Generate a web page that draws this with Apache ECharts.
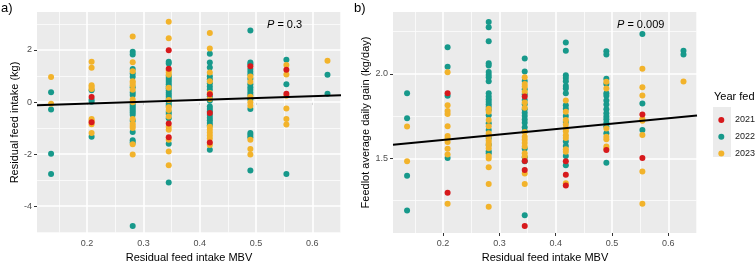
<!DOCTYPE html>
<html><head><meta charset="utf-8">
<script src="https://cdn.jsdelivr.net/npm/echarts@6/dist/echarts.min.js"></script>
<style>html,body{margin:0;padding:0;background:#fff}#c{width:756px;height:261px}</style>
</head><body><div id="c"></div>
<script>
// x positions of the MBV groups
const xLevels = [0.136, 0.208, 0.281, 0.345, 0.418, 0.490, 0.554, 0.627];
const years = ['2021', '2022', '2023'];
const colors = {'2021': '#d7191c', '2022': '#17998b', '2023': '#f2b32b'};

// Panel a: residual feed intake (kg), one list per MBV group
const rfi2021 = [[], [0.19, -0.78], [], [1.99, 1.28, -0.82, -1.35], [0.3, -0.42, -1.55], [1.38], [1.24, 0.32], []];
const rfi2022 = [
  [0.38, -0.29, -1.99, -2.76],
  [0.45, 0.09, 0.01, -1.33],
  [1.93, 1.83, 1.27, 1.1, 0.97, 0.57, 0.37, 0.27, -0.09, -0.17, -0.25, -0.32, -0.4, -0.49, -0.72, -1.15, -1.47, -1.55, -4.76],
  [1.55, 1.48, 1.0, 0.92, 0.85, 0.77, 0.68, 0.6, 0.52, 0.44, 0.36, 0.28, 0.2, 0.12, 0.03, -0.06, -0.14, -0.38, -0.46, -0.62, -1.6, -3.09],
  [1.86, 1.52, 1.33, 0.99, 0.88, 0.72, 0.6, 0.48, 0.22, 0.05, -0.17, -0.27, -0.36, -0.5, -0.6, -0.7, -0.8, -0.9, -1.83],
  [2.75, 1.52, 1.45, 1.27, 1.16, 1.06, 0.9, 0.68, 0.57, 0.47, 0.37, 0.27, 0.11, -0.27, -1.19, -1.27, -1.35, -2.63],
  [1.63, 0.68, -2.76],
  [1.05, 0.32]
];
const rfi2023 = [
  [0.96, -0.06],
  [1.55, 1.32, 0.65, 0.58, 0.5, -0.65, -0.72, -0.85, -1.19],
  [2.52, 1.53, 1.18, 0.8, 0.73, 0.65, 0.47, 0.1, -0.01, -0.65, -0.83, -0.92, -1.0, -1.62, -2.01],
  [3.09, 2.45, 1.22, 1.14, 1.05, 0.55, 0.08, -0.2, -0.3, -0.55, -0.95, -1.06, -1.45, -1.9, -2.43],
  [2.65, 2.06, 1.14, 0.8, 0.35, 0.12, -0.95, -1.05, -1.17, -1.28, -1.4, -1.65],
  [0.98, 0.78, 0.2, -0.01, -0.14, -1.45, -1.8, -2.01],
  [1.42, 1.06, 0.24, -0.25, -0.65, -0.86],
  [1.59]
];

// Panel b: feedlot average daily gain (kg/day)
const adg2021 = [[], [1.885, 1.296], [], [1.866, 1.484, 1.43, 1.099], [1.482, 1.403, 1.338], [1.549], [1.759, 1.502], []];
const adg2022 = [
  [1.885, 1.737, 1.397, 1.19],
  [2.158, 2.043, 1.87, 1.502],
  [2.308, 2.277, 2.194, 2.063, 2.05, 2.012, 1.995, 1.98, 1.957, 1.885, 1.866, 1.85, 1.835, 1.82, 1.806, 1.787, 1.755, 1.707, 1.668, 1.62, 1.58, 1.541, 1.53],
  [2.091, 2.014, 1.958, 1.909, 1.88, 1.846, 1.82, 1.79, 1.77, 1.75, 1.73, 1.71, 1.684, 1.66, 1.557, 1.506, 1.482, 1.162],
  [2.186, 2.138, 1.992, 1.976, 1.957, 1.929, 1.913, 1.885, 1.814, 1.794, 1.751, 1.715, 1.6, 1.573, 1.514, 1.458],
  [2.134, 2.115, 1.972, 1.94, 1.885, 1.87, 1.842, 1.818, 1.79, 1.767, 1.747, 1.731, 1.711, 1.69, 1.648, 1.474],
  [2.237, 1.824, 1.668],
  [2.138, 2.115]
];
const adg2023 = [
  [1.688, 1.482],
  [2.01, 1.814, 1.78, 1.763, 1.69, 1.632, 1.617, 1.597, 1.557, 1.522, 1.23],
  [1.794, 1.775, 1.727, 1.69, 1.648, 1.63, 1.605, 1.59, 1.577, 1.56, 1.514, 1.498, 1.447, 1.348, 1.213],
  [1.98, 1.94, 1.925, 1.895, 1.83, 1.8, 1.656, 1.628, 1.61, 1.59, 1.57, 1.53, 1.51, 1.41, 1.348],
  [1.842, 1.775, 1.727, 1.7, 1.676, 1.66, 1.636, 1.62, 1.553, 1.538, 1.352],
  [1.953, 1.913, 1.676, 1.628, 1.613, 1.569, 1.557],
  [2.03, 1.921, 1.872, 1.733, 1.723, 1.638, 1.421, 1.231],
  [1.955]
];

// fitted lines (intercept, slope)
const fitA = [-0.2, 0.71];
const fitB = [1.545, 0.32];

// ticks
const xMajor = [0.2, 0.3, 0.4, 0.5, 0.6];
const xMinor = [0.15, 0.25, 0.35, 0.45, 0.55, 0.65];
const yMajorA = [-4, -2, 0, 2];
const yMinorA = [-5, -3, -1, 1, 3];
const yMajorB = [1.5, 2.0];
const yMinorB = [1.25, 1.75, 2.25];
const pLabels = ['0.3', '0.009'];

const X_MIN = 0.111, X_MAX = 0.651;
const Y_A = [-5.03, 3.46];
const Y_B = [1.057, 2.367];

function pts(groups) {
  const out = [];
  groups.forEach((g, i) => g.forEach(v => out.push([xLevels[i], v])));
  return out;
}
function fitLine(f) {
  return [[X_MIN, f[0] + f[1] * X_MIN], [X_MAX, f[0] + f[1] * X_MAX]];
}

const FONT = 'Liberation Sans, Arial, sans-serif';
const tickLbl = {color: '#4d4d4d', fontSize: 9, fontFamily: FONT};

function majorX(grid) {
  return {
    type: 'value', gridIndex: grid, min: X_MIN, max: X_MAX,
    name: 'Residual feed intake MBV', nameLocation: 'middle', nameGap: 15,
    nameTextStyle: {color: '#000', fontSize: 11, fontFamily: FONT},
    axisLine: {show: false},
    axisTick: {show: true, length: 3, lineStyle: {color: '#333', width: 1}, customValues: xMajor},
    axisLabel: Object.assign({margin: 6, customValues: xMajor, formatter: v => v.toFixed(1)}, tickLbl),
    splitLine: {show: false}
  };
}
function majorY(grid, rng, ticks, name, gap, fmt) {
  return {
    type: 'value', gridIndex: grid, min: rng[0], max: rng[1],
    name: name, nameLocation: 'middle', nameGap: gap,
    nameTextStyle: {color: '#000', fontSize: 11, fontFamily: FONT},
    axisLine: {show: false},
    axisTick: {show: true, length: 3, lineStyle: {color: '#333', width: 1}, customValues: ticks},
    axisLabel: Object.assign({margin: 5, customValues: ticks, formatter: fmt}, tickLbl),
    splitLine: {show: false}
  };
}

const dataA = {'2021': rfi2021, '2022': rfi2022, '2023': rfi2023};
const dataB = {'2021': adg2021, '2022': adg2022, '2023': adg2023};
const drawOrder = ['2022', '2023', '2021'];

// grid lines drawn as markLines on a carrier series (behind the points)
function gridLines(gi, yMaj, yMin) {
  const d = [];
  const minorStyle = {color: '#fafafa', width: 0.9, type: 'solid'};
  const majorStyle = {color: '#ffffff', width: 1.6, type: 'solid'};
  xMinor.forEach(v => d.push({xAxis: v, lineStyle: minorStyle}));
  yMin.forEach(v => d.push({yAxis: v, lineStyle: minorStyle}));
  xMajor.forEach(v => d.push({xAxis: v, lineStyle: majorStyle}));
  yMaj.forEach(v => d.push({yAxis: v, lineStyle: majorStyle}));
  return {
    type: 'line', xAxisIndex: gi, yAxisIndex: gi, data: [], z: 1, silent: true,
    markLine: {z: 1, silent: true, symbol: ['none', 'none'], label: {show: false}, animation: false, emphasis: {disabled: true}, data: d}
  };
}

const series = [gridLines(0, yMajorA, yMinorA), gridLines(1, yMajorB, yMinorB)];
[[0, dataA, fitA], [1, dataB, fitB]].forEach(([gi, d, fit]) => {
  drawOrder.forEach(y => {
    series.push({
      type: 'scatter', name: y, xAxisIndex: gi, yAxisIndex: gi,
      data: pts(d[y]), symbol: 'circle', symbolSize: 6,
      itemStyle: {color: colors[y], opacity: 1}, z: 4, silent: true
    });
  });
  series.push({
    type: 'line', xAxisIndex: gi, yAxisIndex: gi, data: fitLine(fit),
    symbol: 'none', lineStyle: {color: '#000', width: 2}, z: 6, silent: true
  });
});

const option = {
  animation: false,
  backgroundColor: '#fff',
  grid: [
    {left: 37, top: 12, width: 304, height: 221, show: true, backgroundColor: '#ebebeb', borderWidth: 0, containLabel: false, outerBoundsMode: 'none'},
    {left: 393, top: 12, width: 304, height: 221, show: true, backgroundColor: '#ebebeb', borderWidth: 0, containLabel: false, outerBoundsMode: 'none'}
  ],
  xAxis: [majorX(0), majorX(1)],
  yAxis: [
    majorY(0, Y_A, yMajorA, 'Residual feed intake (kg)', 15, v => String(v)),
    majorY(1, Y_B, yMajorB, 'Feedlot average daily gain (kg/day)', 20, v => v.toFixed(1))
  ],
  legend: {
    data: years, orient: 'vertical', left: 713.3, top: 109,
    icon: 'circle', itemWidth: 17.4, itemHeight: 6, itemGap: 4.7,
    textStyle: {color: '#1a1a1a', fontSize: 9, fontFamily: FONT, lineHeight: 12},
    selectedMode: false, z: 10
  },
  graphic: [
    {type: 'rect', shape: {x: 713, y: 107, width: 18, height: 50}, style: {fill: '#ebebeb'}, z: 1},
    {type: 'text', x: 714, y: 97, style: {text: 'Year fed', fontSize: 11, fontFamily: FONT, fill: '#000', verticalAlign: 'middle'}},
    {type: 'text', x: 1, y: 8, style: {text: 'a)', fontSize: 13, fontFamily: FONT, fill: '#000', verticalAlign: 'middle'}},
    {type: 'text', x: 354, y: 8, style: {text: 'b)', fontSize: 13, fontFamily: FONT, fill: '#000', verticalAlign: 'middle'}},
    {type: 'text', x: 267, y: 25, z: 20, style: {text: '{i|P} = ' + pLabels[0], verticalAlign: 'middle', fontSize: 11, fontFamily: FONT, fill: '#000', rich: {i: {fontStyle: 'italic', fontSize: 11, fontFamily: FONT}}}},
    {type: 'text', x: 617, y: 25, z: 20, style: {text: '{i|P} = ' + pLabels[1], verticalAlign: 'middle', fontSize: 11, fontFamily: FONT, fill: '#000', rich: {i: {fontStyle: 'italic', fontSize: 11, fontFamily: FONT}}}}
  ],
  series: series
};

const chart = echarts.init(document.getElementById('c'), null, {renderer: 'canvas'});
chart.setOption(option);
</script>
</body></html>
